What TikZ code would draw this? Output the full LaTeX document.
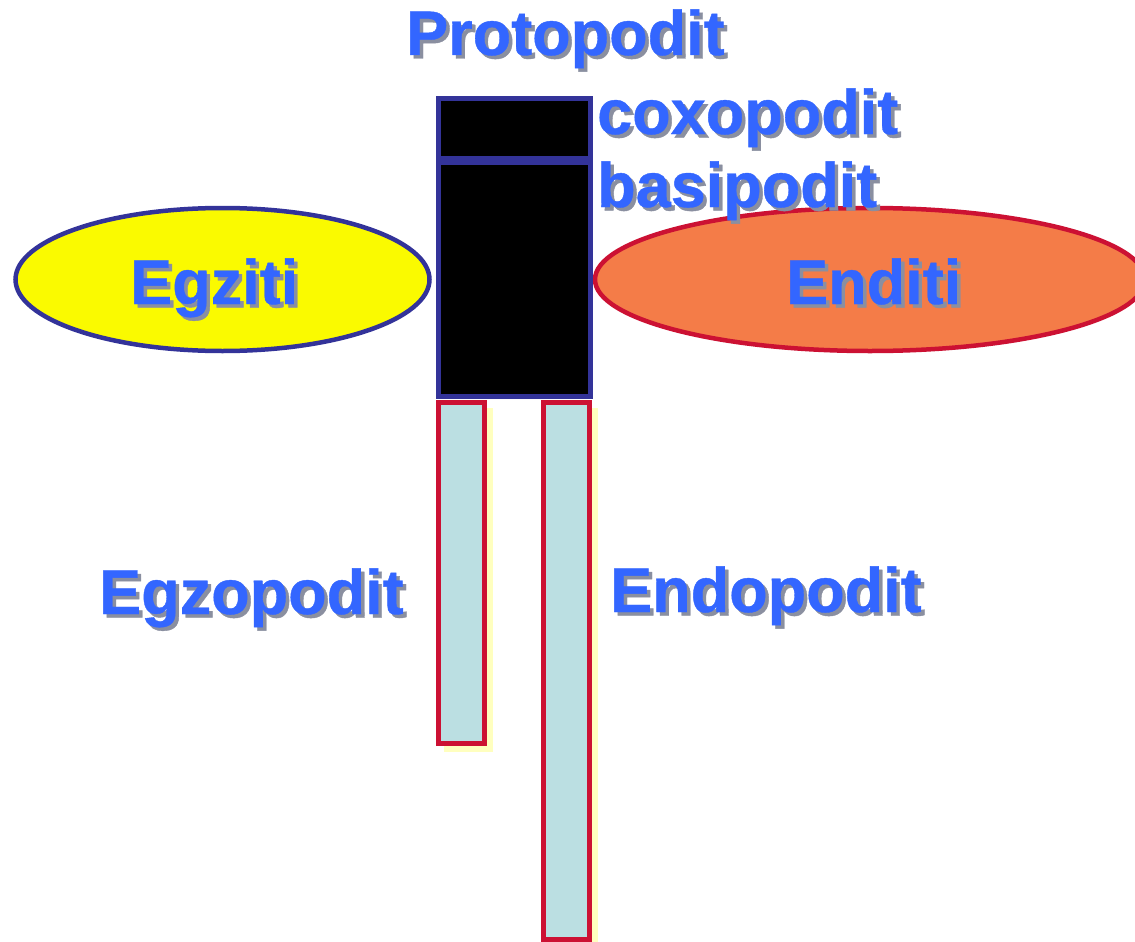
\documentclass[tikz,border=0pt]{standalone}
\usepackage{fontspec}
\setmainfont{Liberation Sans}
\newfontfamily\heavyfont[FakeBold=0.6]{Liberation Sans Bold}
\usetikzlibrary{shapes.geometric}
\definecolor{txtblue}{HTML}{3366FF}
\definecolor{shadowgray}{HTML}{8A8FA0}
\definecolor{navy}{HTML}{333399}
\definecolor{crimson}{HTML}{CC1133}
\definecolor{lightcyan}{HTML}{BBDFE2}
\definecolor{paleyellow}{HTML}{FFFFBF}
\definecolor{egzyellow}{HTML}{FAFA00}
\definecolor{endorange}{HTML}{F47C48}
\newcommand{\shadowed}[1]{\rlap{\kern3.5pt\raisebox{-3.5pt}{\textcolor{shadowgray}{#1}}}#1}
\tikzset{
  lbl/.style={font=\fontsize{63}{66}\heavyfont, text=txtblue, inner sep=0pt, anchor=base west},
  blackbox/.style={fill=black, draw=navy, line width=5pt},
  branch/.style={fill=lightcyan, draw=crimson, line width=5pt},
  branchshadow/.style={fill=paleyellow, draw=none},
  lobe/.style={line width=4.5pt}
}
\begin{document}
\begin{tikzpicture}[x=1pt,y=-1pt]
\clip (0,0) rectangle (1135,942);
\fill[white] (0,0) rectangle (1135,942);
% ellipses
\draw[lobe, fill=egzyellow, draw=navy] (222.5,279.5) ellipse [x radius=207, y radius=71.5];
\draw[lobe, fill=endorange, draw=crimson] (870,279.5) ellipse [x radius=275, y radius=71.5];
% protopodit boxes
\draw[blackbox] (438,98) rectangle (590,158);
\draw[blackbox] (438,162) rectangle (590,396);
% branches
\fill[branchshadow] (444,408) rectangle (493,752);
\draw[branch] (438.5,402.5) rectangle (484.5,743.5);
\fill[branchshadow] (549,408) rectangle (598,942);
\draw[branch] (543.5,402.5) rectangle (589.5,939.5);
% labels
\node[lbl] (proto) at (406,55) {\shadowed{Protopodit}};
\node[lbl] (coxoL) at (597,134) {\shadowed{coxopodit}};
\node[lbl] (basiL) at (597,207) {\shadowed{basipodit}};
\node[lbl] (egz) at (130,304) {\shadowed{Egziti}};
\node[lbl] (end) at (786,304) {\shadowed{Enditi}};
\node[lbl] (egzp) at (99,614) {\shadowed{Egzopodit}};
\node[lbl] (endp) at (610,612) {\shadowed{Endopodit}};
\end{tikzpicture}
\end{document}
